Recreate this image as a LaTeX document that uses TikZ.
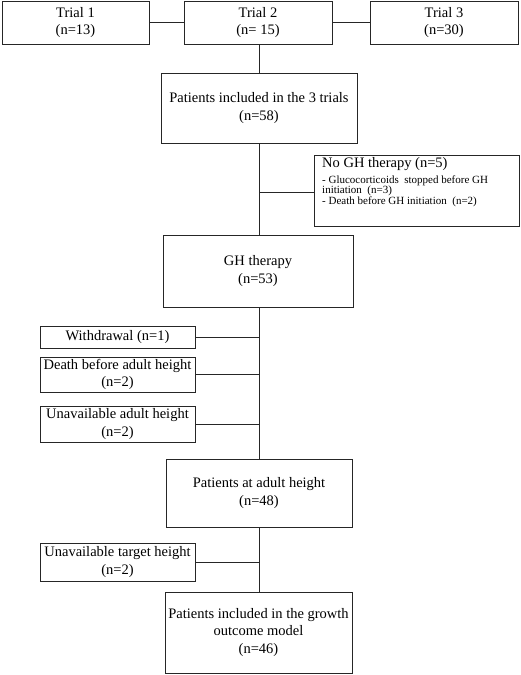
\documentclass[tikz,border=0pt]{standalone}
\usepackage{fontspec}
\setmainfont{Liberation Serif}
\begin{document}
\begin{tikzpicture}[x=1pt,y=-1pt,
  box/.style={draw=black!85, line width=1pt, inner sep=0pt, align=center,
    font=\fontsize{14.5}{17.5}\selectfont},
  link/.style={draw=black!85, line width=1pt}]
\useasboundingbox (0,0) rectangle (520,675);
\fill[white] (0,0) rectangle (520,675);
% top row
\node[box, minimum width=147pt, minimum height=43pt] (t1) at (75.5,22.5) {Trial 1\\(n=13)};
\node[box, minimum width=148pt, minimum height=43pt] (t2) at (258,22.5) {Trial 2\\(n= 15)};
\node[box, minimum width=148pt, minimum height=43pt] (t3) at (444,22.5) {Trial 3\\(n=30)};
\node[box, minimum width=196pt, minimum height=70pt] (p58) at (259,108) {Patients included in the 3 trials\\(n=58)};
% No GH box
\node[box, minimum width=205pt, minimum height=71pt] (nogh) at (416.5,190.5) {};
\node[anchor=north west, inner sep=0pt, align=left] (noghtext) at (322,157)
  {{\fontsize{14.5}{16}\selectfont No GH therapy (n=5)}\\[4pt]
   {\fontsize{11}{10}\selectfont - Glucocorticoids\ \ stopped before GH}\\[-1.5pt]
   {\fontsize{11}{10}\selectfont initiation\ \ (n=3)}\\[-1.5pt]
   {\fontsize{11}{10}\selectfont - Death before GH initiation\ \ (n=2)}};
\node[box, minimum width=190pt, minimum height=72pt] (gh) at (258,271) {GH therapy\\(n=53)};
% exclusions
\node[box, minimum width=155pt, minimum height=22pt] (wd) at (117.5,337) {Withdrawal (n=1)};
\node[box, minimum width=155pt, minimum height=35pt] (death) at (117.5,374.5) {Death before adult height\\(n=2)};
\node[box, minimum width=155pt, minimum height=36pt] (unav) at (117.5,424) {Unavailable adult height\\(n=2)};
\node[box, minimum width=186pt, minimum height=68pt] (p48) at (259,493) {Patients at adult height\\(n=48)};
\node[box, minimum width=155pt, minimum height=38pt] (target) at (117.5,562) {Unavailable target height\\(n=2)};
\node[box, minimum width=187pt, minimum height=81pt] (final) at (258.5,632.5) {Patients included in the growth\\outcome model\\(n=46)};
% spine coordinates
\coordinate (s1) at (259,192);
% connectors
\draw[link] (t1.east) -- (t2.west);
\draw[link] (t2.east) -- (t3.west);
\draw[link] (t2.south -| p58.north) -- (p58.north);
\draw[link] (p58.south) -- (p58.south |- gh.north);
\draw[link] (s1) -- (s1 -| nogh.west);
\draw[link] (gh.south -| p58.south) -- (p48.north -| p58.south);
\draw[link] (wd.east) -- (wd.east -| p58.south);
\draw[link] (death.east) -- (death.east -| p58.south);
\draw[link] (unav.east) -- (unav.east -| p58.south);
\draw[link] (p48.south) -- (p48.south |- final.north);
\draw[link] (target.east) -- (target.east -| p48.south);
\end{tikzpicture}
\end{document}
